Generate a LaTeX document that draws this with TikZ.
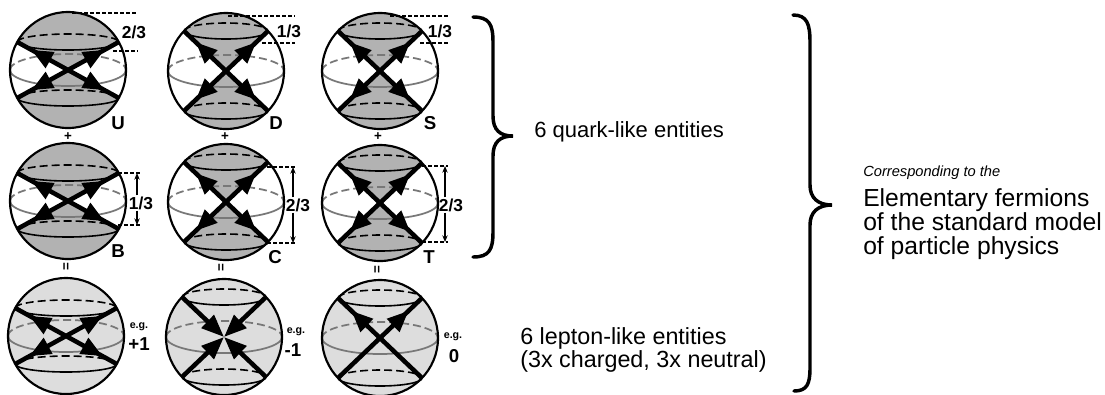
\documentclass[tikz,border=0pt]{standalone}
\usepackage{fontspec}
\setmainfont{Liberation Sans}
\usetikzlibrary{arrows.meta,decorations.markings}

\definecolor{capgray}{RGB}{178,178,178}
\definecolor{lepgray}{RGB}{221,221,221}
\definecolor{eqgray}{RGB}{120,120,120}

\tikzset{
  sphereline/.style={line width=1.6pt},
  equator/.style={draw=eqgray, line width=1.3pt},
  rimback/.style={line width=1.2pt, dash pattern=on 6pt off 3pt},
  rimfront/.style={line width=1.2pt},
  dimline/.style={line width=0.9pt, dash pattern=on 3pt off 1.5pt},
  dimarrow/.style={line width=0.8pt, -{Stealth[length=5pt,width=4pt]}},
  bothways/.style={line width=3.4pt, postaction={decorate}, decoration={markings,
      mark=at position 0.14 with {\arrowreversed{Triangle[length=16pt,width=13pt]}},
      mark=at position 0.86 with {\arrow{Triangle[length=16pt,width=13pt]}}}},
  upwards/.style={line width=3.4pt, postaction={decorate}, decoration={markings,
      mark=at position 0.84 with {\arrow{Triangle[length=16pt,width=13pt]}}}},
  inwards/.style={line width=3.4pt, -{Triangle[length=17pt,width=13pt]}},
  brace/.style={line width=2.6pt, line cap=round},
  letter/.style={font=\fontsize{14}{16}\selectfont\bfseries, inner sep=0.75pt},
  frac/.style={font=\fontsize{13}{15}\selectfont\bfseries, inner sep=0.75pt},
  sign/.style={font=\fontsize{10}{11}\selectfont\bfseries, inner sep=0.75pt},
  eg/.style={font=\fontsize{8}{9}\selectfont\bfseries, inner sep=0.75pt},
  charge/.style={font=\fontsize{14}{16}\selectfont\bfseries, inner sep=0.75pt},
  bigtext/.style={font=\fontsize{16.5}{18}\selectfont, anchor=base west, inner sep=0.75pt},
  righttext/.style={font=\fontsize{18.5}{20}\selectfont, anchor=base west, inner sep=0.75pt},
  smalltext/.style={font=\fontsize{11}{13}\selectfont\itshape, anchor=base west, inner sep=0.75pt}
}

% one sphere: #1 name, #2 centre, #3 height of the cone rims, #4 body colour, #5 shade colour
\newcommand{\drawsphere}[5]{%
  \begin{scope}[shift={(#2)}]
    \pgfmathsetmacro\sphH{#3}
    \pgfmathsetmacro\sphA{sqrt(58*58-(#3)*(#3))}
    \pgfmathsetmacro\sphB{asin((#3)/58)}
    \coordinate (#1c) at (0,0);
    \coordinate (#1ul) at (-\sphA,-\sphH);
    \coordinate (#1ur) at (\sphA,-\sphH);
    \coordinate (#1ll) at (-\sphA,\sphH);
    \coordinate (#1lr) at (\sphA,\sphH);
    %body
    \fill[#4] (0,0) circle[radius=58];
    %caps
    \fill[#5] (#1ul) arc[start angle={180+\sphB}, end angle={360-\sphB}, radius=58]
      arc[start angle=0, end angle=180, x radius=\sphA, y radius=8] -- cycle;
    \fill[#5] (#1lr) arc[start angle=\sphB, end angle={180-\sphB}, radius=58]
      arc[start angle=180, end angle=360, x radius=\sphA, y radius=8] -- cycle;
    %cones
    \fill[#5] (#1ul) -- (#1c) -- (#1ur) -- cycle;
    \fill[#5] (#1ll) -- (#1c) -- (#1lr) -- cycle;
    %equator
    \draw[equator, dash pattern=on 6pt off 3pt] (-58,0) arc[start angle=180, end angle=360, x radius=58, y radius=16];
    \draw[equator] (58,0) arc[start angle=0, end angle=180, x radius=58, y radius=16];
    %rims of the cones
    \draw[rimback] (#1ul) arc[start angle=180, end angle=360, x radius=\sphA, y radius=8];
    \draw[rimfront] (#1ur) arc[start angle=0, end angle=180, x radius=\sphA, y radius=8];
    \draw[rimback] (#1ll) arc[start angle=180, end angle=360, x radius=\sphA, y radius=8];
    \draw[rimfront] (#1lr) arc[start angle=0, end angle=180, x radius=\sphA, y radius=8];
    %outline
    \draw[sphereline] (0,0) circle[radius=58];
  \end{scope}}

\begin{document}
\begin{tikzpicture}[x=0.75pt,y=0.75pt,yscale=-1,xscale=1]
\useasboundingbox (0,0) rectangle (1105,394);

%Spheres: quark-like, top row
\drawsphere{U}{68,70}{28}{white}{capgray}
\drawsphere{D}{226,71}{40}{white}{capgray}
\drawsphere{S}{380,71}{40}{white}{capgray}
%Spheres: quark-like, middle row
\drawsphere{B}{68,201}{28}{white}{capgray}
\drawsphere{C}{226,202}{40}{white}{capgray}
\drawsphere{T}{380,203}{40}{white}{capgray}
%Spheres: lepton-like, bottom row
\drawsphere{P}{66,336}{28}{lepgray}{lepgray}
\drawsphere{M}{224,337}{40}{lepgray}{lepgray}
\drawsphere{Z}{380,338}{40}{lepgray}{lepgray}

%Arrows in the spheres
\foreach \s in {U,D,S,B,C,T,P} {
  \draw[bothways] (\s ul) -- (\s lr);
  \draw[bothways] (\s ur) -- (\s ll);
}
\foreach \e in {ul,ur,ll,lr} {
  \draw[inwards] (M\e) -- (Mc);
}
\draw[upwards] (Zll) -- (Zur);
\draw[upwards] (Zlr) -- (Zul);

%Top row fractions
\draw[dimline] (72,13) -- (138,13);
\draw[dimline] (113,51) -- (138,51);
\node[frac] (fracU) at (134,32) {2/3};
\draw[dimline] (228,16) -- (295,16);
\draw[dimline] (262,43) -- (295,43);
\node[frac] (fracD) at (289,31) {1/3};
\draw[dimline] (390,16) -- (448,16);
\draw[dimline] (420,43) -- (448,43);
\node[frac] (fracS) at (440,31) {1/3};

%Middle row fractions
\draw[dimline] (118,173) -- (140,173);
\draw[dimline] (118,225) -- (140,225);
\coordinate (Btop) at (137,173);
\coordinate (Bbot) at (137,225);
\node[frac] (fracB) at (141,203) {1/3};
\draw[dimarrow] (fracB.north -| Btop) -- (Btop);
\draw[dimarrow] (fracB.south -| Bbot) -- (Bbot);

\draw[dimline] (267,167) -- (297,167);
\draw[dimline] (267,243) -- (297,243);
\coordinate (Ctop) at (293,167);
\coordinate (Cbot) at (293,243);
\node[frac] (fracC) at (298,205) {2/3};
\draw[dimarrow] (fracC.north -| Ctop) -- (Ctop);
\draw[dimarrow] (fracC.south -| Cbot) -- (Cbot);

\draw[dimline] (422,166) -- (448,166);
\draw[dimline] (422,242) -- (448,242);
\coordinate (Ttop) at (445,166);
\coordinate (Tbot) at (445,242);
\node[frac] (fracT) at (451,205) {2/3};
\draw[dimarrow] (fracT.north -| Ttop) -- (Ttop);
\draw[dimarrow] (fracT.south -| Tbot) -- (Tbot);

% Text Node: names
\node[letter] (nameU) at (118,123) {U};
\node[letter] (nameD) at (276,123) {D};
\node[letter] (nameS) at (430,123) {S};
\node[letter] (nameB) at (118,251) {B};
\node[letter] (nameC) at (275,257) {C};
\node[letter] (nameT) at (429,257) {T};

% Text Node: signs between the rows
\node[sign] (plusU) at (68,137) {+};
\node[sign] (plusD) at (225,137) {+};
\node[sign] (plusS) at (378,137) {+};
\node[sign, rotate=90] (isB) at (67,267) {=};
\node[sign, rotate=90] (isC) at (222,268) {=};
\node[sign, rotate=90] (isT) at (378,270) {=};

% Text Node: charges
\node[eg] (egP) at (139,327) {e.g.};
\node[charge] (chargeP) at (139,344) {+1};
\node[eg] (egM) at (296,332) {e.g.};
\node[charge] (chargeM) at (293,350) {-1};
\node[eg] (egZ) at (453,337) {e.g.};
\node[charge] (chargeZ) at (454,356) {0};

%Braces
\draw[brace] (473,17) .. controls (489,17) and (493,24) .. (493,42) -- (493,116) .. controls (493,130) and (500,136) .. (513,136) .. controls (500,136) and (493,142) .. (493,156) -- (493,232) .. controls (493,250) and (489,257) .. (473,257);
\draw[brace] (793,15) .. controls (807,15) and (810,24) .. (810,42) -- (810,185) .. controls (810,198) and (818,205) .. (832,205) .. controls (818,205) and (810,212) .. (810,225) -- (810,368) .. controls (810,384) and (807,391) .. (794,391);

% Text Node: descriptions
\node[bigtext] (quarks) at (533,137) {6 quark-like entities};
\node[bigtext, font=\fontsize{17.5}{19}\selectfont] (leptonsA) at (519,344) {6 lepton-like entities};
\node[bigtext, font=\fontsize{17.5}{19}\selectfont] (leptonsB) at (519,367) {(3x charged, 3x neutral)};
\node[smalltext] (corr) at (862,176) {Corresponding to the};
\node[righttext] (fermA) at (862,206) {Elementary fermions};
\node[righttext] (fermB) at (862,230) {of the standard model};
\node[righttext] (fermC) at (862,254) {of particle physics};

\end{tikzpicture}
\end{document}
